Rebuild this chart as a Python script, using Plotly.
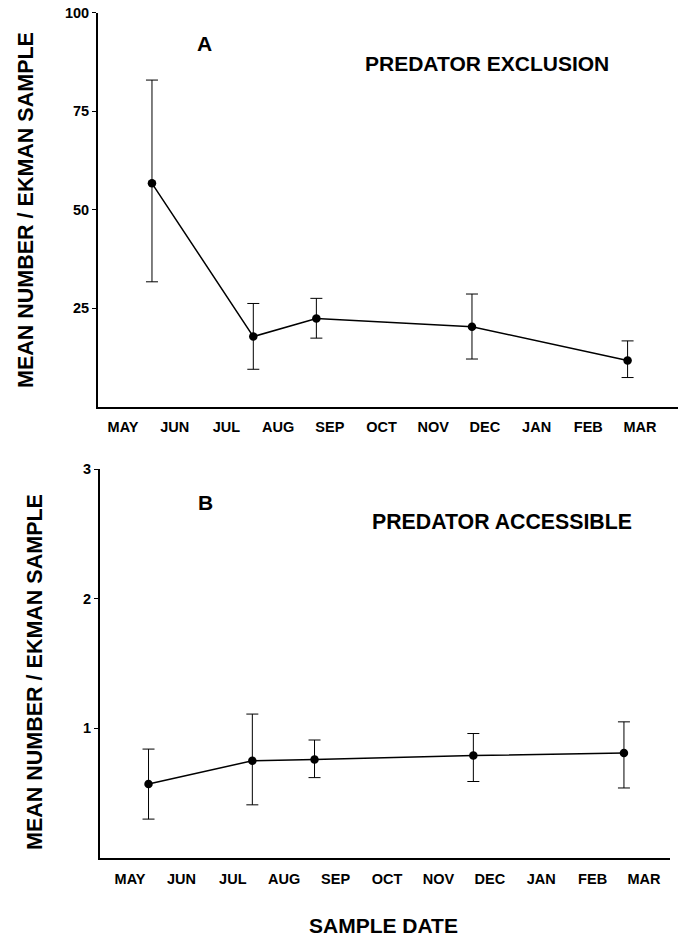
import plotly.graph_objects as go

W, H = 685, 937      # browser window; page margin removed below

months = ["MAY", "JUN", "JUL", "AUG", "SEP", "OCT", "NOV", "DEC", "JAN", "FEB", "MAR"]

# Panel A: predator exclusion (sample date as month index, MAY = 0)
date_a = [0.56, 2.52, 3.74, 6.75, 9.76]
mean_a = [56.7, 17.8, 22.4, 20.3, 11.7]
upper_a = [82.9, 26.2, 27.5, 28.6, 16.7]
lower_a = [31.7, 9.5, 17.4, 12.1, 7.4]

# Panel B: predator accessible
date_b = [0.36, 2.38, 3.59, 6.68, 9.61]
mean_b = [0.57, 0.75, 0.76, 0.79, 0.81]
upper_b = [0.84, 1.11, 0.91, 0.96, 1.05]
lower_b = [0.30, 0.41, 0.62, 0.59, 0.54]

yticks_a = [25, 50, 75, 100]
yticks_b = [1, 2, 3]

FONT = "Liberation Sans, Arial, sans-serif"


def px(x):
    return x / W


def py(y):
    return 1 - y / H


fig = go.Figure()


def add_series(dates, mean, upper, lower, xa, ya):
    fig.add_trace(go.Scatter(
        x=dates, y=mean, xaxis=xa, yaxis=ya, mode="lines+markers",
        line=dict(color="black", width=1.5),
        marker=dict(color="black", size=8.5),
        error_y=dict(type="data", symmetric=False,
                     array=[u - m for u, m in zip(upper, mean)],
                     arrayminus=[m - l for m, l in zip(mean, lower)],
                     color="black", thickness=1, width=6),
        showlegend=False,
    ))


add_series(date_a, mean_a, upper_a, lower_a, "x", "y")
add_series(date_b, mean_b, upper_b, lower_b, "x2", "y2")

axis_common = dict(showline=True, linecolor="black", linewidth=2, showgrid=False,
                   zeroline=False, mirror=False, automargin=False,
                   ticklabeloverflow="allow")
xtickfont = dict(family=FONT, size=14.5, color="black", weight="bold")
ytickfont = dict(family=FONT, size=14.5, color="black", weight="bold")

fig.update_layout(
    template="none",
    width=W, height=H,
    margin=dict(l=0, r=0, t=0, b=0),
    paper_bgcolor="white", plot_bgcolor="white",
    font=dict(family=FONT, color="black"),
    xaxis=dict(domain=[px(98), px(678)], range=[-0.484, 10.735], anchor="y",
               tickvals=list(range(len(months))), ticktext=months, ticks="",
               ticklabelstandoff=6, tickfont=xtickfont, **axis_common),
    yaxis=dict(domain=[py(406.7), py(12.7)], range=[0, 100], anchor="x",
               tickvals=yticks_a, ticks="outside", ticklen=4, tickwidth=1,
               tickcolor="black", tickfont=ytickfont, **axis_common),
    xaxis2=dict(domain=[px(100), px(670)], range=[-0.584, 10.506], anchor="y2",
                tickvals=list(range(len(months))), ticktext=months, ticks="",
                ticklabelstandoff=7, tickfont=xtickfont, **axis_common),
    yaxis2=dict(domain=[py(858), py(469)], range=[0, 3], anchor="x2",
                tickvals=yticks_b, ticks="outside", ticklen=4, tickwidth=1,
                tickcolor="black", tickfont=ytickfont, **axis_common),
)


def note(text, x, y, size, angle=0):
    fig.add_annotation(text=text, x=px(x), y=py(y), xref="paper", yref="paper",
                       showarrow=False, textangle=angle, xanchor="center", yanchor="middle",
                       font=dict(family=FONT, size=size, color="black", weight="bold"))


note("MEAN NUMBER / EKMAN SAMPLE", 26, 210, 21.5, -90)
note("MEAN NUMBER / EKMAN SAMPLE", 35, 672, 21.5, -90)
note("A", 204, 43, 21)
note("B", 205, 503, 21)
note("PREDATOR EXCLUSION", 487, 63, 21)
note("PREDATOR ACCESSIBLE", 502, 522, 21.3)
note("SAMPLE DATE", 383, 925, 21)

fig.write_html(
    "out.html",
    config={"displayModeBar": False},
    post_script="document.body.style.margin='0';document.body.style.overflow='hidden';",
)
